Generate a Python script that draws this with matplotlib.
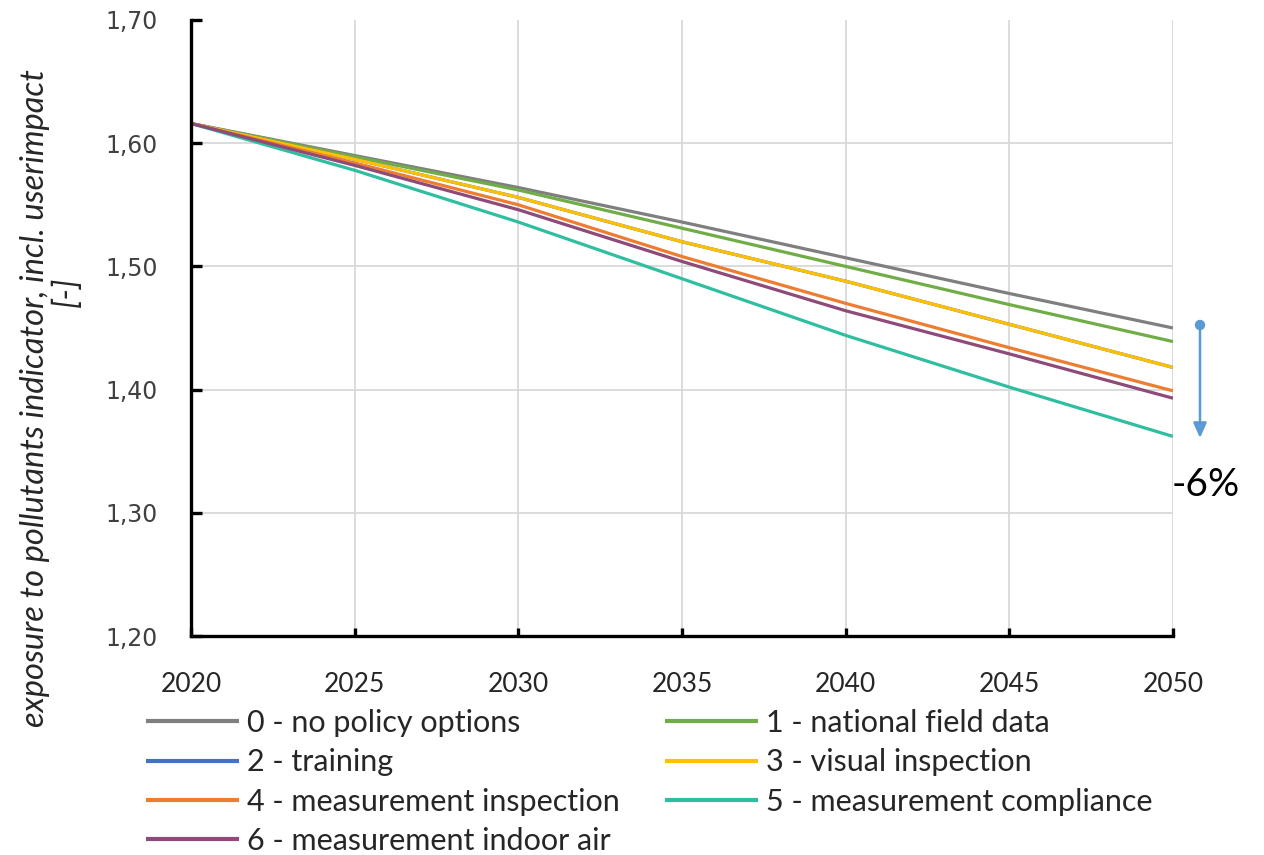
import matplotlib
matplotlib.use("Agg")
import matplotlib.pyplot as plt

plt.rcParams['font.family'] = ['Lato', 'DejaVu Sans']

years = [2020, 2025, 2030, 2035, 2040, 2045, 2050]

series_names = [
    "0 - no policy options",
    "1 - national field data",
    "2 - training",
    "3 - visual inspection",
    "4 - measurement inspection",
    "5 - measurement compliance",
    "6 - measurement indoor air",
]

no_policy = [1.616, 1.590, 1.564, 1.536, 1.507, 1.478, 1.450]
national_field = [1.616, 1.589, 1.562, 1.531, 1.500, 1.469, 1.439]
training = [1.616, 1.587, 1.556, 1.520, 1.488, 1.453, 1.418]
visual_inspection = [1.616, 1.587, 1.556, 1.520, 1.488, 1.453, 1.418]
measurement_inspection = [1.616, 1.584, 1.550, 1.508, 1.470, 1.434, 1.399]
measurement_compliance = [1.616, 1.578, 1.536, 1.490, 1.444, 1.402, 1.362]
measurement_indoor_air = [1.616, 1.582, 1.546, 1.504, 1.464, 1.429, 1.393]

series_values = [no_policy, national_field, training, visual_inspection,
                 measurement_inspection, measurement_compliance,
                 measurement_indoor_air]
series_colors = ["#7f7f7f", "#70ad47", "#4472c4", "#ffc000",
                 "#ed7d31", "#2fbfa0", "#8e4a78"]

y_ticks = [1.20, 1.30, 1.40, 1.50, 1.60, 1.70]
x_ticks = [2020, 2025, 2030, 2035, 2040, 2045, 2050]

change_label = "-6%"

fig = plt.figure(figsize=(12.64, 8.55), dpi=100)
ax = fig.add_axes([191 / 1264, 1 - 636 / 855, (1173 - 191) / 1264, (636 - 20) / 855])

for name, vals, col in zip(series_names, series_values, series_colors):
    ax.plot(years, vals, color=col, lw=2.3, label=name, solid_capstyle='butt')

ax.set_xlim(2020, 2050)
ax.set_ylim(1.20, 1.70)
ax.set_xticks(x_ticks)
ax.set_yticks(y_ticks)
ax.set_xticklabels([str(x) for x in x_ticks], fontsize=19, color="#262626")
ax.set_yticklabels([f"{v:.2f}".replace(".", ",") for v in y_ticks],
                   fontsize=17, color="#404040", family="DejaVu Sans")

ax.grid(True, color="#d9d9d9", lw=1.3)
ax.set_axisbelow(True)
ax.get_ygridlines()[-1].set_visible(False)
ax.get_ygridlines()[0].set_visible(False)
ax.get_xgridlines()[0].set_visible(False)

for side in ("top", "right"):
    ax.spines[side].set_visible(False)
for side in ("left", "bottom"):
    ax.spines[side].set_color("black")
    ax.spines[side].set_linewidth(2.4)

ax.tick_params(axis='y', direction='in', length=8, width=2.4, pad=24)
ax.tick_params(axis='x', direction='in', length=6, width=2.4, pad=26)

# reduction arrow from the reference scenario to the lowest scenario
ax.annotate("", xy=(1200 / 1264, 1 - 438 / 855), xycoords='figure fraction',
            xytext=(1200 / 1264, 1 - 325 / 855), textcoords='figure fraction',
            arrowprops=dict(arrowstyle="-|>,head_length=0.9,head_width=0.4",
                            color="#5b9bd5", lw=1.8, shrinkA=0, shrinkB=0))
fig.patches.append(matplotlib.patches.Circle((1200, 855 - 325), 4.5,
                                             transform=None, color="#5b9bd5"))
fig.text(1206 / 1264, 1 - 485 / 855, change_label, fontsize=28,
         ha='center', va='center', color="black")

fig.text(35 / 1264, 1 - 398 / 855,
         "exposure to pollutants indicator, incl. userimpact",
         rotation=90, ha='center', va='center', fontsize=23.5,
         style='italic', color="#262626")
fig.text(67 / 1264, 1 - 292 / 855, "[-]", rotation=90, ha='center',
         va='center', fontsize=23.5, style='italic', color="#262626")

# legend filled row by row: 0 1 / 2 3 / 4 5 / 6
handles, labels = ax.get_legend_handles_labels()
order = [0, 2, 4, 6, 1, 3, 5]
leg = fig.legend([handles[i] for i in order], [labels[i] for i in order],
                 ncol=2, loc='upper left',
                 bbox_to_anchor=(146 / 1264, 1 - 709 / 855),
                 frameon=False, fontsize=22, handlelength=3.05,
                 handletextpad=0.24, columnspacing=1.5, labelspacing=0.37,
                 borderpad=0, borderaxespad=0)
for t in leg.get_texts():
    t.set_color("#262626")
for h in leg.get_lines():
    h.set_linewidth(3)

fig.savefig("out.png", dpi=100)
